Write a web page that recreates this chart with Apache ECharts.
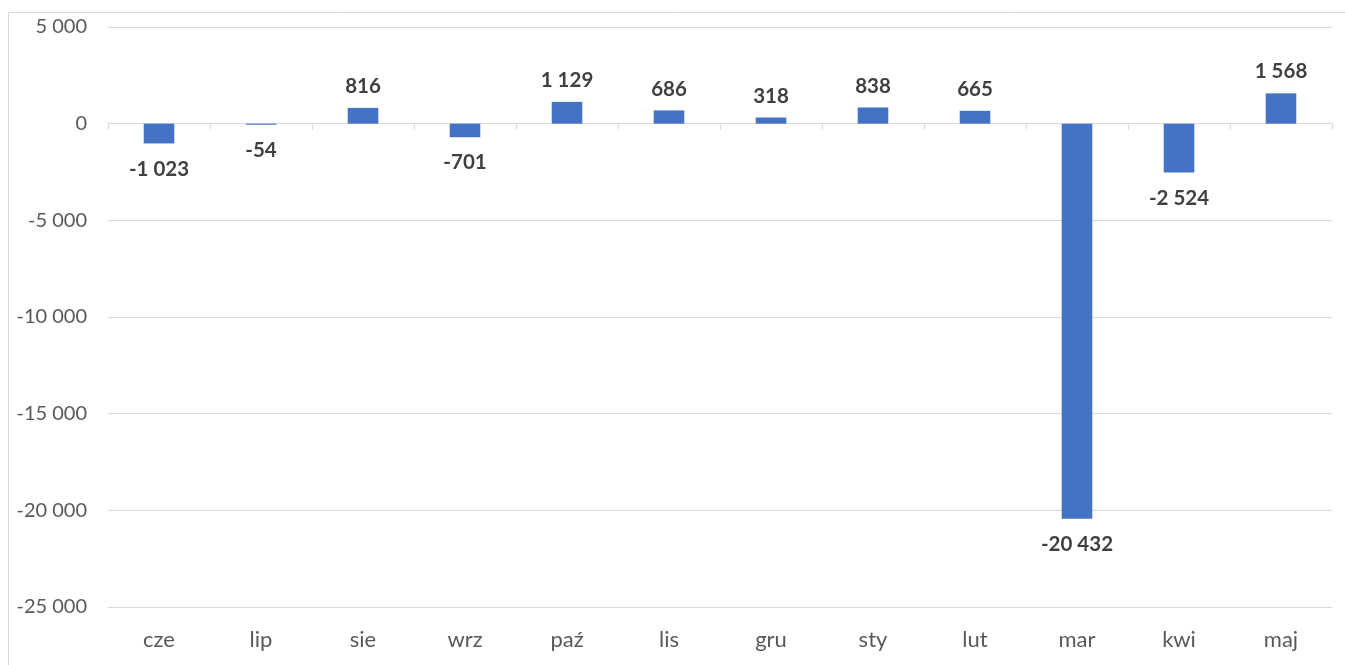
<!DOCTYPE html>
<html>
<head>
<meta charset="utf-8">
<script src="https://cdn.jsdelivr.net/npm/echarts@6/dist/echarts.min.js"></script>
<style>
    html, body { margin: 0; padding: 0; background: #fff; }
    #chart { width: 1345px; height: 665px; }
</style>
</head>
<body>
<div id="chart"></div>
<script>
const months = ['cze', 'lip', 'sie', 'wrz', 'paź', 'lis', 'gru', 'sty', 'lut', 'mar', 'kwi', 'maj'];
const values = [-1023, -54, 816, -701, 1129, 686, 318, 838, 665, -20432, -2524, 1568];
const yTicks = { min: -25000, max: 5000, interval: 5000 };

const fontFamily = 'Lato, "Open Sans", sans-serif';

// liczby z odstępem tysięcy, jak w Excelu
function fmt(v) {
    const s = String(Math.abs(v)).replace(/\B(?=(\d{3})+(?!\d))/g, ' ');
    return (v < 0 ? '-' : '') + s;
}

const chart = echarts.init(document.getElementById('chart'));

const option = {
    animation: false,
    textStyle: { fontFamily: fontFamily },
    graphic: [
        {
            type: 'rect',
            shape: { x: 8.5, y: 12.5, width: 1345, height: 665 },
            style: { fill: 'none', stroke: '#d9d9d9', lineWidth: 1 },
            silent: true
        }
    ],
    grid: {
        left: 108,
        right: 13,
        top: 27,
        bottom: 58
    },
    xAxis: [
        {
            type: 'category',
            data: months,
            position: 'bottom',
            axisLine: { show: false, onZero: false },
            axisTick: { show: false },
            axisLabel: {
                color: '#595959',
                fontSize: 22,
                margin: 22,
                fontFamily: fontFamily
            }
        },
        {
            type: 'category',
            data: months,
            position: 'top',
            axisLine: { show: true, onZero: true, lineStyle: { color: '#d9d9d9', width: 1 } },
            axisTick: { show: true, inside: true, length: 6, lineStyle: { color: '#d9d9d9' } },
            axisLabel: { show: false },
            splitLine: { show: false }
        }
    ],
    yAxis: {
        type: 'value',
        min: yTicks.min,
        max: yTicks.max,
        interval: yTicks.interval,
        axisLine: { show: false },
        axisTick: { show: false },
        axisLabel: {
            color: '#595959',
            fontSize: 20,
            margin: 21,
            fontFamily: fontFamily,
            formatter: fmt
        },
        splitLine: { lineStyle: { color: '#d9d9d9', width: 1 } }
    },
    series: [
        {
            type: 'bar',
            xAxisIndex: 0,
            barWidth: '30%',
            itemStyle: { color: '#4472C4' },
            data: values.map(function (v) {
                return {
                    value: v,
                    label: {
                        position: v < 0 ? 'bottom' : 'top',
                        distance: v < 0 ? 15 : 11
                    }
                };
            }),
            label: {
                show: true,
                color: '#404040',
                fontSize: 20.5,
                fontWeight: 'bold',
                fontFamily: fontFamily,
                formatter: function (p) { return fmt(p.value); }
            },
            z: 3
        }
    ]
};

chart.setOption(option);
</script>
</body>
</html>
